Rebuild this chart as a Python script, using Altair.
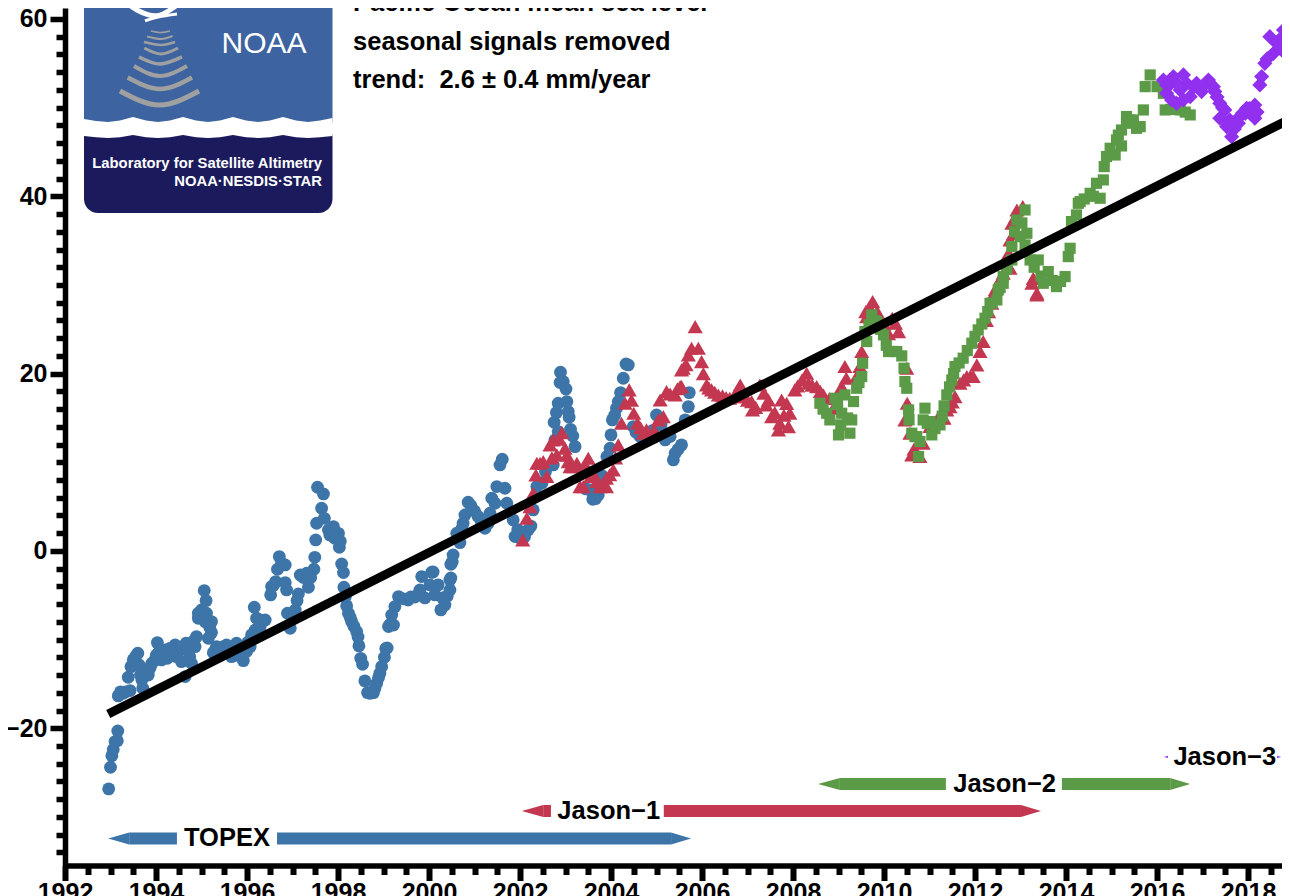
import altair as alt
import pandas as pd

FONT = "Liberation Sans"
BLUE, RED, GREEN, PURPLE = "#3E75A8", "#C33850", "#5B9A46", "#9130EE"

topex_year = [1992.96,1993.00,1993.03,1993.06,1993.10,1993.15,1993.16,1993.17,1993.28,1993.43,1993.39,1993.45,1993.50,1993.60,1993.63,1993.69,1993.71,1993.76,1993.83,1993.91,1993.98,1994.01,1994.03,1994.12,1994.20,1994.25,1994.34,1994.42,1994.45,1994.53,1994.66,1994.56,1994.71,1994.78,1994.64,1994.89,1994.86,1995.15,1995.22,1995.06,1995.10,1995.00,1995.11,1994.93,1994.93,1995.08,1995.22,1995.33,1995.26,1995.41,1995.48,1995.55,1995.77,1995.77,1995.66,1995.92,1995.99,1996.07,1996.10,1996.16,1996.18,1996.21,1996.40,1996.29,1996.71,1996.84,1996.67,1996.63,1996.54,1996.52,1996.84,1996.87,1996.89,1997.06,1996.95,1997.13,1997.17,1997.31,1997.47,1997.35,1997.49,1997.51,1997.53,1997.64,1997.55,1997.68,1997.70,1997.79,1997.82,1997.90,1997.93,1998.01,1998.03,1998.08,1998.12,1998.13,1998.19,1998.23,1998.30,1998.41,1998.46,1998.50,1998.54,1998.59,1998.65,1998.70,1998.78,1998.81,1998.85,1998.92,1998.96,1999.02,1999.08,1999.11,1999.22,1999.18,1999.25,1999.33,1999.36,1999.54,1999.69,1999.80,1999.84,1999.91,2000.02,2000.06,2000.09,2000.13,2000.20,2000.26,2000.35,2000.46,2000.46,2000.48,2000.48,2000.51,2000.53,2000.68,2000.61,2000.75,2000.79,2000.86,2000.92,2001.08,2001.23,2001.34,2001.38,2001.45,2001.49,2001.67,2001.56,2001.61,2001.71,2001.85,2001.89,2002.00,2002.18,2002.29,2002.37,2002.48,2002.56,2002.73,2002.77,2002.84,2002.75,2002.80,2002.84,2003.03,2003.06,2003.08,2002.88,2002.89,2002.95,2003.01,2003.11,2003.16,2003.21,2003.39,2003.54,2003.60,2003.72,2003.91,2003.98,2004.00,2004.03,2004.12,2004.16,2004.21,2004.27,2004.33,2004.38,2004.49,2004.64,2005.00,2005.19,2005.37,2005.41,2005.55,2005.30,2005.63,2005.70,2005.72,
    1993.22,1993.33,1993.55,1993.66,1993.87,1994.07,1994.16,1994.30,1994.38,1994.49,1994.60,1994.74,1994.82,1995.03,1995.18,1995.30,1995.37,1995.60,1995.70,1995.85,1996.02,1996.25,1996.35,1996.76,1996.58,1997.10,1997.24,1997.40,1997.98,1998.05,1998.16,1998.27,1998.35,1998.44,1998.74,1998.89,1999.05,1999.14,1999.44,1999.60,1999.74,2000.30,2000.40,2000.64,2000.72,2001.00,2001.15,2001.30,2001.95,2002.10,2002.24,2003.45,2003.66,2003.80,2004.08,2004.55,2004.72,2004.85,2004.92,2005.10,2005.48]
topex_mm = [-26.84,-24.4,-23.1,-22.4,-21.5,-21.4,-20.3,-16.35,-16.05,-15.75,-14.25,-13.05,-12.29,-11.54,-12.86,-14.55,-15.49,-13.42,-13.99,-12.67,-12.29,-11.73,-10.34,-12.29,-11.17,-12.11,-11.54,-10.60,-11.92,-11.17,-10.41,-12.48,-11.17,-12.67,-14.17,-9.66,-10.79,-9.85,-9.21,-4.47,-5.60,-6.66,-7.03,-7.59,-7.03,-7.97,-7.97,-10.79,-11.47,-11.54,-10.79,-10.60,-10.41,-11.54,-11.92,-12.37,-11.35,-10.79,-9.47,-6.35,-8.91,-7.59,-7.78,-8.53,-0.64,-1.58,-2.07,-3.46,-4.02,-4.96,-3.57,-4.40,-7.03,-6.66,-8.72,-4.85,-2.71,-2.52,-2.07,-4.10,-0.72,1.24,3.12,4.81,7.18,6.43,3.68,2.37,1.80,2.74,1.43,1.99,0.41,-1.47,-2.44,-4.10,-6.20,-7.03,-7.97,-9.10,-10.71,-12.11,-12.78,-14.66,-15.98,-16.05,-15.98,-15.49,-14.93,-13.80,-13.05,-11.99,-10.94,-8.53,-8.35,-7.22,-6.28,-5.15,-5.30,-5.53,-5.19,-4.40,-2.89,-5.30,-3.83,-2.40,-2.37,-4.96,-3.83,-6.65,-6.09,-4.40,-3.27,-3.05,-1.50,-1.24,-0.45,0.94,2.00,3.12,4.06,5.49,5.12,3.88,2.56,4.25,5.94,5.38,7.26,7.07,9.70,10.34,5.38,3.50,1.62,1.43,2.37,4.63,7.26,7.63,8.95,9.70,12.52,13.46,14.51,15.60,16.66,16.85,15.72,15.08,18.99,20.15,19.10,18.27,13.72,12.97,11.77,9.14,6.88,5.83,6.32,10.64,11.58,13.09,14.78,16.09,16.85,17.86,19.48,21.09,20.98,14.03,12.90,15.34,12.52,10.27,11.02,11.96,12.90,14.78,16.28,17.86,
    -15.9,-15.9,-11.9,-14.0,-13.2,-11.4,-11.2,-11.0,-11.3,-11.0,-10.9,-11.9,-10.2,-7.4,-8.6,-11.2,-11.0,-11.0,-11.4,-11.9,-10.3,-7.7,-7.9,-1.4,-3.9,-5.6,-3.0,-3.0,1.6,1.1,-5.2,-7.5,-8.5,-9.7,-16.0,-14.3,-11.0,-8.3,-5.4,-5.2,-5.0,-5.3,-5.1,1.4,2.5,4.5,3.3,3.1,2.4,1.6,2.8,7.0,5.9,8.5,15.3,13.4,12.9,13.0,13.6,14.2,11.5]

jason1_year = [2002.06,2002.15,2002.29,2002.35,2002.37,2002.44,2002.51,2002.59,2002.66,2002.73,2002.81,2002.92,2002.99,2003.06,2003.10,2003.17,2003.25,2003.32,2003.39,2003.50,2003.61,2003.76,2003.90,2003.90,2004.05,2004.16,2004.23,2004.31,2004.40,2004.50,2004.58,2004.71,2004.78,2004.86,2005.04,2005.15,2005.08,2005.22,2005.41,2005.52,2005.55,2005.59,2005.55,2005.70,2005.77,2005.85,2005.92,2005.99,2006.10,2006.21,2006.36,2006.61,2006.84,2006.91,2007.09,2007.11,2007.27,2007.41,2007.46,2007.53,2007.75,2007.86,2007.71,2007.93,2007.90,2007.68,2008.04,2008.30,2008.34,2008.52,2008.67,2008.89,2009.14,2009.17,2009.07,2009.40,2009.51,2009.47,2009.62,2009.75,2009.91,2010.18,2010.32,2010.50,2010.51,2010.46,2010.57,2010.61,2010.79,2010.86,2011.01,2011.16,2011.32,2011.45,2011.56,2011.67,2011.82,2011.96,2012.04,2012.18,2012.11,2012.37,2012.40,2012.51,2012.62,2012.77,2012.77,2012.81,2012.92,2013.05,2013.25,2013.28,2013.36,2013.36,
    2002.22,2002.70,2002.87,2003.03,2003.45,2003.55,2003.68,2003.83,2003.97,2004.10,2004.45,2004.65,2004.95,2005.30,2005.46,2005.65,2006.03,2006.15,2006.28,2006.45,2006.53,2006.70,2006.77,2007.00,2007.18,2007.36,2007.60,2007.80,2008.10,2008.20,2008.42,2008.60,2008.80,2009.60,2009.68,2009.85,2010.00,2010.10,2010.25,2010.66,2010.72,2011.25,2011.38,2011.50,2011.75,2011.90,2012.25,2012.30,2012.45,2012.56,2012.70,2012.74,2012.85,2012.88]
jason1_mm = [1.24,3.69,6.51,8.57,9.89,9.89,10.08,8.39,11.96,12.52,10.83,13.35,11.58,10.08,9.51,9.51,9.89,7.26,7.26,10.45,8.76,7.26,8.20,7.26,9.14,11.96,14.40,16.66,18.16,15.53,14.40,13.27,13.65,12.90,14.78,15.15,17.03,17.97,17.60,18.54,20.42,20.60,18.53,22.10,22.86,25.30,22.86,21.35,18.72,18.16,17.59,17.22,18.72,17.41,16.84,15.90,18.72,16.47,17.03,15.15,17.03,16.65,14.40,15.53,14.02,13.65,18.16,20.04,18.91,18.53,17.59,16.10,20.80,19.48,18.54,19.67,22.49,20.80,26.43,28.13,26.06,26.25,24.74,20.61,16.66,14.78,13.28,10.83,10.65,12.15,14.03,14.78,14.97,16.28,17.41,18.92,19.67,19.67,20.98,23.62,22.49,27.94,28.87,30.01,31.32,31.88,35.08,36.96,38.46,38.84,30.19,30.75,28.88,29.06,
    5.0,10.5,12.6,10.8,9.6,8.4,7.8,7.6,8.6,10.5,17.0,13.9,13.6,17.7,18.3,21.0,20.0,18.4,17.9,17.5,17.3,17.4,18.0,17.0,16.2,17.8,15.6,15.3,18.6,19.3,18.7,18.0,17.2,27.0,27.5,27.0,25.6,24.5,25.7,11.5,11.0,15.0,15.9,16.8,19.3,19.7,26.0,27.0,29.5,30.7,33.0,33.6,35.8,37.6]

jason2_year = [2008.59,2008.74,2008.81,2008.92,2009.07,2009.29,2009.05,2009.25,2009.00,2009.14,2009.33,2009.40,2009.51,2009.53,2009.62,2009.58,2009.73,2009.84,2009.99,2010.10,2010.28,2010.39,2010.44,2010.46,2010.50,2010.54,2010.55,2010.61,2010.72,2010.79,2010.76,2010.90,2010.86,2011.01,2011.05,2011.23,2011.32,2011.38,2011.49,2011.56,2011.74,2011.93,2012.07,2012.22,2012.33,2012.37,2012.48,2012.51,2012.62,2012.62,2012.81,2012.81,2012.92,2013.10,2012.99,2013.14,2013.10,2013.21,2013.39,2013.50,2013.61,2013.79,2013.98,2014.05,2014.09,2014.12,2014.23,2014.27,2014.31,2014.53,2014.75,2014.67,2014.82,2014.84,2014.89,2014.97,2015.08,2015.11,2015.22,2015.22,2015.33,2015.33,2015.48,2015.55,2015.63,2015.70,2015.74,2015.85,2016.00,2016.18,2016.40,2016.51,2016.73,2016.14,
    2008.66,2008.98,2009.20,2009.45,2009.67,2009.78,2009.92,2010.05,2010.18,2010.68,2010.95,2011.12,2011.28,2011.44,2011.53,2011.65,2011.83,2012.00,2012.15,2012.28,2012.55,2012.70,2012.87,2013.03,2013.30,2013.45,2013.70,2013.88,2014.40,2014.60,2015.15,2015.40,2016.30,2016.62]
jason2_mm = [16.66,15.53,14.78,17.22,15.53,14.78,14.22,13.28,13.09,17.60,16.85,18.35,19.67,21.17,23.62,24.74,26.62,25.87,24.37,22.49,22.49,22.00,20.61,19.10,18.35,15.91,14.78,13.28,12.90,12.34,10.65,16.10,14.78,14.59,13.09,14.22,16.36,17.60,19.29,20.80,21.74,23.43,24.93,26.25,27.93,27.94,28.31,29.44,30.19,30.94,32.82,34.33,37.33,38.46,35.45,35.83,34.51,32.82,32.82,30.19,31.51,29.82,30.94,33.20,34.14,37.15,37.90,39.21,39.40,40.34,39.78,41.47,41.85,43.35,44.48,45.42,44.66,46.36,45.68,47.48,48.99,48.24,48.61,47.67,47.86,49.74,52.37,53.69,52.37,49.74,49.93,49.74,49.18,51.62,
    16.0,16.5,15.0,19.0,25.5,26.0,25.0,23.2,22.5,12.9,14.4,13.8,15.2,18.5,20.0,21.2,22.6,24.2,25.6,27.0,29.7,31.8,36.0,37.0,32.0,31.0,30.5,30.4,39.7,40.0,46.9,48.6,49.8,49.5]

jason3_year = [2016.14,2016.36,2016.58,2016.43,2016.21,2016.51,2016.73,2016.87,2017.13,2017.27,2017.38,2017.49,2017.38,2017.53,2017.64,2017.82,2017.97,2018.15,2018.15,2018.26,2018.37,2018.56,2018.74,2018.48,2018.81,2018.78,2018.63,2016.21,2016.65,2016.98,2017.60,2016.32,2016.58,2017.24,2018.08,2017.94,2017.79,
    2016.28,2016.46,2016.80,2017.05,2017.18,2017.32,2017.44,2017.58,2017.70,2017.88,2018.03,2018.20,2018.30,2018.42,2018.68,2018.86]
jason3_mm = [53.12,53.50,53.69,50.49,51.62,52.00,51.24,52.75,53.12,51.81,50.49,49.74,48.80,47.86,46.73,48.99,49.93,50.30,48.80,52.56,55.00,56.13,56.51,58.01,58.01,58.76,57.26,52.56,52.75,51.81,48.61,50.87,50.87,52.37,49.55,49.36,48.24,
    52.6,52.6,52.3,52.6,52.6,51.2,50.0,48.2,47.6,49.4,49.9,49.5,53.5,55.5,57.6,57.2]

trend_year = [1992.95, 2018.88]
trend_mm = [-18.4, 48.6]

# mission bars: start, end, level
bar_x = [1993.41, 1996.66, 2002.51, 2005.16, 2009.03, 2013.91]
bar_x2 = [1994.46, 2005.32, 2002.68, 2013.01, 2011.36, 2016.29]
bar_level = [-32.43, -32.43, -29.33, -29.33, -26.28, -26.28]
bar_color = [BLUE, BLUE, RED, RED, GREEN, GREEN]
head_base = [1993.41, 2005.32, 2002.51, 2013.01, 2009.03, 2016.29, 2016.24, 2018.64]
head_tip = [1992.95, 2005.76, 2002.04, 2013.45, 2008.55, 2016.73, 2016.15, 2018.73]
head_level = [-32.43, -32.43, -29.33, -29.33, -26.28, -26.28, -23.23, -23.23]
head_half = [0.68, 0.68, 0.68, 0.68, 0.68, 0.68, 0.12, 0.12]
head_color = [BLUE, BLUE, RED, RED, GREEN, GREEN, PURPLE, PURPLE]
mission_names = ["TOPEX", "Jason\u22121", "Jason\u22122", "Jason\u22123"]
mission_x = [1995.56, 2003.95, 2012.65, 2017.49]
mission_y = [-32.43, -29.33, -26.28, -23.23]

note_lines = ["Pacific Ocean mean sea level", "seasonal signals removed", "trend:\u00a0\u00a02.6 \u00b1 0.4 mm/year"]
note_x = [1998.33, 1998.33, 1998.33]
note_y = [60.91, 56.51, 52.22]

X0, Y0 = 1992.0, 61.24
XMAX, YMIN = 2018.747, -35.48
x_ticks = [1992 + i * 0.5 for i in range(54)]
y_ticks = [-34 + i * 2 for i in range(48)]


def lx(px):  # logo drawing sizes measured in reference pixels -> data units
    return 1992 + (px - 65) / 45.5


def ly(py):
    return (551 - py) / 8.866


sx = alt.Scale(domain=[X0, XMAX], nice=False, zero=False)
sy = alt.Scale(domain=[YMIN, Y0], nice=False, zero=False)

x_axis = alt.Axis(
    values=x_ticks, title=None, grid=False, labelExpr="datum.value % 2 === 0 ? format(datum.value, 'd') : ''",
    tickSize={"condition": {"test": "datum.value % 2 === 0", "value": 15}, "value": 9},
    tickWidth=6,
    tickColor="black", domainColor="black", domainWidth=5.5, labelFont=FONT, labelFontWeight="bold",
    labelFontSize=25, labelColor="black", labelPadding=0, labelOverlap=False, labelFlush=False, labelBound=False,
)
y_axis = alt.Axis(
    values=y_ticks, title=None, grid=False,
    labelExpr="datum.value % 20 === 0 ? replace(format(datum.value, 'd'), '-', '\u2212') : ''",
    tickSize={"condition": {"test": "datum.value % 20 === 0", "value": 15}, "value": 9},
    tickWidth=5.5,
    tickColor="black", domainColor="black", domainWidth=5.5, labelFont=FONT, labelFontWeight="bold",
    labelFontSize=25, labelColor="black", labelPadding=3, labelOverlap=False, labelFlush=False, labelBound=False,
)
X = lambda f="x": alt.X(f"{f}:Q", scale=sx, axis=x_axis)
Y = lambda f="y": alt.Y(f"{f}:Q", scale=sy, axis=y_axis)

# logo
logo_blue = alt.Chart(pd.DataFrame({"x": [lx(84)], "x2": [lx(332.5)], "y": [Y0], "y2": [ly(123)]})).mark_rect(color="#3D64A0").encode(
    x=X(), x2="x2:Q", y=Y(), y2="y2:Q")
logo_navy = alt.Chart(pd.DataFrame({"x": [lx(84)], "x2": [lx(332.5)], "y": [ly(134)], "y2": [ly(213)]})).mark_rect(
    color="#1B1A5C", cornerRadiusBottomLeft=14, cornerRadiusBottomRight=14).encode(
    x=X(), x2="x2:Q", y=Y(), y2="y2:Q")
wave_px = [84, 96, 108, 120, 133, 146, 158, 170, 183, 196, 208, 220, 233, 246, 258, 270, 283, 296, 308, 320, 332.5]
wave_top = [119, 121, 122, 120.5, 117, 120.5, 122, 120.5, 117, 120.5, 122, 120.5, 117, 120.5, 122, 120.5, 117, 120.5, 122, 120.5, 118]
wave_bot = [136, 137.3, 138, 137.3, 135, 137.3, 138, 137.3, 135, 137.3, 138, 137.3, 135, 137.3, 138, 137.3, 135, 137.3, 138, 137.3, 136]
logo_wave = alt.Chart(pd.DataFrame({"x": [lx(p) for p in wave_px], "y": [ly(p) for p in wave_top], "y2": [ly(p) for p in wave_bot]})).mark_area(
    color="white", opacity=1).encode(x=X(), y=Y(), y2="y2:Q")
arc_id = [a for a in range(1, 9) for _ in range(3)]
arc_px = [151, 161, 170, 147, 161, 172.5, 144, 161, 175, 144.3, 161, 178, 139, 160, 182, 134, 160, 187, 127.7, 160, 192, 120, 159.5, 199]
arc_py = [31, 32.5, 31, 36.5, 39, 36, 42, 45, 42, 48, 54, 48, 57, 64, 57, 66, 76, 66, 77.5, 89, 77.5, 91, 105, 91]
arc_w = [w for w in [1.5, 2, 2.5, 3, 3.5, 4, 4.5, 5] for _ in range(3)]
logo_arcs = alt.Chart(pd.DataFrame({"a": arc_id, "x": [lx(p) for p in arc_px], "y": [ly(p) for p in arc_py], "w": arc_w})).mark_line(
    color="#A0A0A0", interpolate="natural", clip=True).encode(
    x=X(), y=Y(), detail="a:N", order="x:Q", strokeWidth=alt.StrokeWidth("w:Q", scale=None))
swirl_id = [1, 1, 1, 1, 1, 2, 2, 2]
swirl_px = [123, 137, 157, 173, 185, 145, 158, 177]
swirl_py = [0, 10, 15.7, 8, 0, 21, 17, 14]
swirl_w = [5, 5, 5, 5, 5, 3, 3, 3]
logo_swirl = alt.Chart(pd.DataFrame({"a": swirl_id, "x": [lx(p) for p in swirl_px], "y": [ly(p) for p in swirl_py], "w": swirl_w})).mark_line(
    color="white", interpolate="natural", clip=True).encode(
    x=X(), y=Y(), detail="a:N", order="x:Q", strokeWidth=alt.StrokeWidth("w:Q", scale=None))
logo_noaa = alt.Chart(pd.DataFrame({"x": [lx(264)], "y": [ly(53)], "t": ["NOAA"]})).mark_text(
    font=FONT, fontSize=30, color="white", align="center", baseline="alphabetic").encode(x=X(), y=Y(), text="t:N")
logo_lab = alt.Chart(pd.DataFrame({"x": [lx(322), lx(322)], "y": [ly(168), ly(185.7)], "t": ["Laboratory for Satellite Altimetry", "NOAA\u00b7NESDIS\u00b7STAR"]})).mark_text(
    font=FONT, fontSize=14.8, fontWeight="bold", color="white", align="right", baseline="alphabetic").encode(x=X(), y=Y(), text="t:N")

# mission bars
bars_df = pd.DataFrame({"x": bar_x, "x2": bar_x2, "y": [v + 0.68 for v in bar_level], "y2": [v - 0.68 for v in bar_level], "c": bar_color})
bars = alt.Chart(bars_df).mark_rect().encode(x=X(), x2="x2:Q", y=Y(), y2="y2:Q", color=alt.Color("c:N", scale=None))
head_layers = []
for i in range(len(head_base)):
    df = pd.DataFrame({
        "x": [head_base[i], head_tip[i]],
        "y": [head_level[i] + head_half[i], head_level[i]],
        "y2": [head_level[i] - head_half[i], head_level[i]],
    })
    head_layers.append(alt.Chart(df).mark_area(color=head_color[i], opacity=1).encode(x=X(), y=Y(), y2="y2:Q"))
names = alt.Chart(pd.DataFrame({"x": mission_x, "y": mission_y, "t": mission_names})).mark_text(
    font=FONT, fontSize=25.5, fontWeight="bold", color="black", align="center", baseline="middle").encode(x=X(), y=Y(), text="t:N")


def pts(years, mms, color, shape, size):
    return alt.Chart(pd.DataFrame({"x": years, "y": mms})).mark_point(
        filled=True, shape=shape, size=size, color=color, opacity=1, strokeWidth=0).encode(x=X(), y=Y())


s_topex = pts(topex_year, topex_mm, BLUE, "circle", 165)
s_j1 = pts(jason1_year, jason1_mm, RED, "triangle-up", 230)
s_j2 = pts(jason2_year, jason2_mm, GREEN, "square", 125)
s_j3 = pts(jason3_year, jason3_mm, PURPLE, "diamond", 230)
trend = alt.Chart(pd.DataFrame({"x": trend_year, "y": trend_mm})).mark_line(color="black", strokeWidth=9).encode(x=X(), y=Y())
notes = alt.Chart(pd.DataFrame({"x": note_x, "y": note_y, "t": note_lines})).mark_text(
    font=FONT, fontSize=25.5, fontWeight="bold", color="black", align="left", baseline="alphabetic").encode(x=X(), y=Y(), text="t:N")

chart = alt.layer(
    logo_blue, logo_navy, logo_wave, logo_arcs, logo_swirl, logo_noaa, logo_lab,
    bars, *head_layers, s_topex, s_j1, s_j2, s_j3, trend, names, notes,
).properties(
    width=1217, height=857.5, autosize="none",
    padding={"left": 57, "top": 0, "right": 0, "bottom": 31},
    background="white",
).configure_view(stroke=None)

chart.save("out.html", embed_options={"renderer": "svg", "actions": False})
